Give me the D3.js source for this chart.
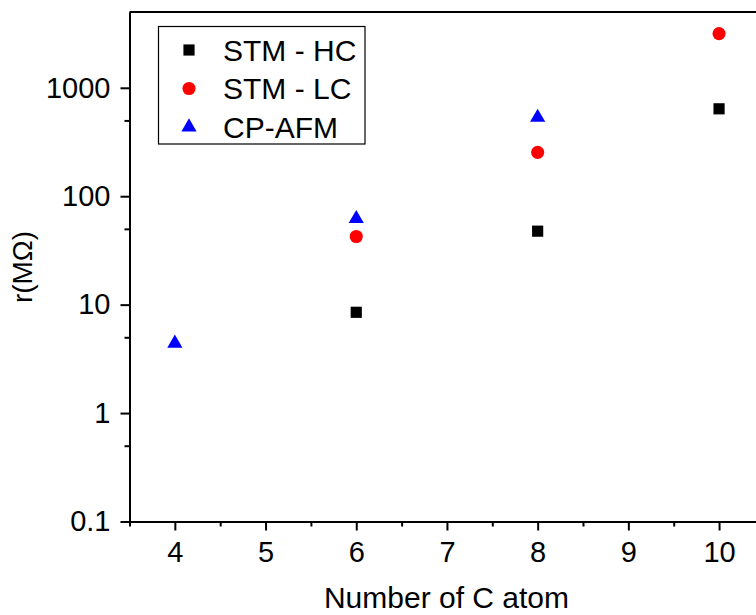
<!DOCTYPE html>
<html>
<head>
<meta charset="utf-8">
<script src="https://cdn.jsdelivr.net/npm/d3@7"></script>
<style>
  html, body { margin: 0; padding: 0; background: #fff; overflow: hidden; }
  svg { display: block; font-family: Arial, "Liberation Sans", sans-serif; }
  .axis path, .axis line { stroke: #000; stroke-width: 2; }
  .axis text { fill: #000; font-size: 29px; }
</style>
</head>
<body>
<div id="chart"></div>
<script>
// data
const carbonAtoms = [4, 6, 8, 10];
const stmHC = [null, 8.5, 47.6, 640];
const stmLC = [null, 42.5, 254, 3160];
const cpAFM = [4.4, 62, 533, null];

const xMajor = [4, 5, 6, 7, 8, 9, 10];
const xMinor = [3.5, 4.5, 5.5, 6.5, 7.5, 8.5, 9.5, 10.5];
const yMajor = [0.1, 1, 10, 100, 1000];
const yMinor = [0.5, 5, 50, 500];

const seriesNames = ['STM - HC', 'STM - LC', 'CP-AFM'];

function drawChart() {
  const width = 756;
  const height = 615;
  const margin = { top: 12, left: 129.5, bottom: 93.5 };

  const svg = d3.select('#chart').append('svg')
    .attr('width', width)
    .attr('height', height);

  // 1) scales (right side of the frame runs off the page)
  const x = d3.scaleLinear()
    .domain([3.5, 10.5])
    .range([margin.left, margin.left + 7 * 90.7]);

  const y = d3.scaleLog()
    .domain([0.1, 5000])
    .range([height - margin.bottom, margin.top]);

  // 2) frame top + right
  svg.append('path')
    .attr('d', `M${x(3.5)},${y(5000)}H${x(10.5)}V${y(0.1)}`)
    .attr('fill', 'none')
    .attr('stroke', '#000')
    .attr('stroke-width', 2);

  // 3) axes, major and minor ticks
  svg.append('g')
    .attr('class', 'axis')
    .attr('transform', `translate(0,${y(0.1)})`)
    .call(d3.axisBottom(x).tickValues(xMinor).tickSize(5).tickFormat('').tickSizeOuter(0));

  svg.append('g')
    .attr('class', 'axis')
    .attr('transform', `translate(0,${y(0.1)})`)
    .call(d3.axisBottom(x).tickValues(xMajor).tickSize(9).tickPadding(11).tickSizeOuter(0).tickFormat(d3.format('d')));

  svg.append('g')
    .attr('class', 'axis')
    .attr('transform', `translate(${x(3.5)},0)`)
    .call(d3.axisLeft(y).tickValues(yMinor).tickSize(5).tickFormat('').tickSizeOuter(0));

  svg.append('g')
    .attr('class', 'axis')
    .attr('transform', `translate(${x(3.5)},0)`)
    .call(d3.axisLeft(y).tickValues(yMajor).tickSize(9).tickPadding(10).tickSizeOuter(0)
      .tickFormat(d => d < 1 ? d3.format('.1f')(d) : d3.format('d')(d)));

  // 4) axis titles
  svg.append('text')
    .attr('x', 446.5)
    .attr('y', 608)
    .attr('text-anchor', 'middle')
    .attr('font-size', '30px')
    .attr('fill', '#000')
    .text('Number of C atom');

  svg.append('text')
    .attr('transform', 'translate(32,267) rotate(-90)')
    .attr('text-anchor', 'middle')
    .attr('font-size', '28px')
    .attr('fill', '#000')
    .text('r(MΩ)');

  // 5) markers
  const series = [
    { name: seriesNames[0], values: stmHC, color: '#000000', symbol: d3.symbolSquare, size: 125 },
    { name: seriesNames[1], values: stmLC, color: '#ff0000', symbol: d3.symbolCircle, size: 135 },
    { name: seriesNames[2], values: cpAFM, color: '#0000ff', symbol: d3.symbolTriangle, size: 100 }
  ];

  series.forEach(s => {
    const pts = carbonAtoms.map((c, i) => ({ c, v: s.values[i] })).filter(d => d.v != null);
    svg.append('g').selectAll('path')
      .data(pts)
      .enter().append('path')
        .attr('transform', d => `translate(${x(d.c)},${y(d.v)})`)
        .attr('d', d3.symbol().type(s.symbol).size(s.size))
        .attr('fill', s.color);
  });

  // 6) legend
  const legend = svg.append('g');
  legend.append('rect')
    .attr('x', 158.5)
    .attr('y', 26.5)
    .attr('width', 206.5)
    .attr('height', 117.5)
    .attr('fill', '#fff')
    .attr('stroke', '#000')
    .attr('stroke-width', 1.2);

  series.forEach((s, i) => {
    const ly = 50 + i * 38.5;
    legend.append('path')
      .attr('transform', `translate(189,${ly})`)
      .attr('d', d3.symbol().type(s.symbol).size(s.size))
      .attr('fill', s.color);
    legend.append('text')
      .attr('x', 223)
      .attr('y', ly)
      .attr('dy', '0.36em')
      .attr('font-size', '30px')
      .attr('fill', '#000')
      .text(s.name);
  });
}

drawChart();
</script>
</body>
</html>
